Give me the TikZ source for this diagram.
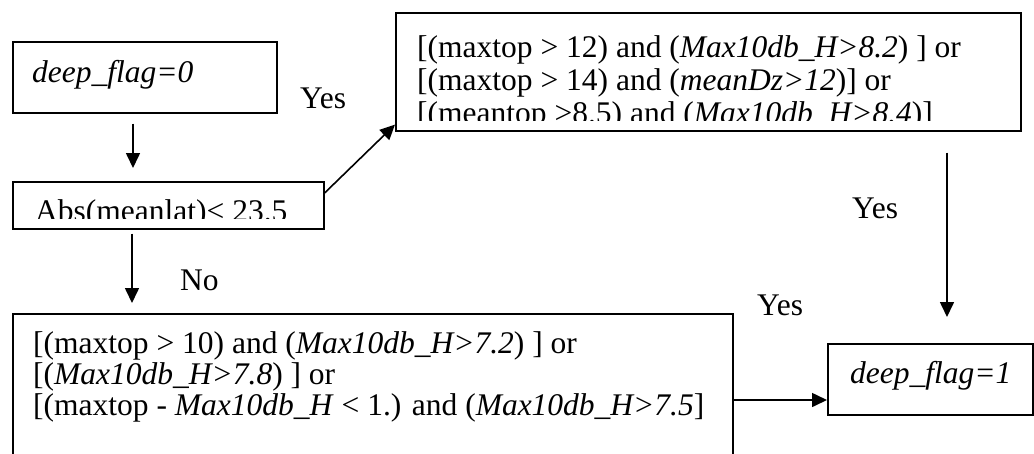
\documentclass[tikz,border=0pt]{standalone}
\usepackage{fontspec}
\setmainfont{Liberation Serif}
\usetikzlibrary{arrows.meta}
\begin{document}
\begin{tikzpicture}[x=1pt,y=-1pt,
  frame/.style={draw, line width=1.6pt, inner sep=0pt, anchor=north west},
  txt/.style={anchor=base west, inner sep=0pt, font=\fontsize{31.5}{33}\selectfont},
  flow/.style={line width=1.6pt, -{Triangle[length=15pt,width=14pt]}},
]
\useasboundingbox (0,0) rectangle (1034,453);
\clip (0,0) rectangle (1034,453);

% boxes
\node[frame, minimum width=264pt, minimum height=71pt]  (A) at (12,41)  {};
\node[frame, minimum width=311pt, minimum height=47pt]  (B) at (12,181) {};
\node[frame, minimum width=625pt, minimum height=118pt] (C) at (395,12) {};
\node[frame, minimum width=720pt, minimum height=160pt] (D) at (12,313) {};
\node[frame, minimum width=205pt, minimum height=71pt]  (E) at (827,343) {};

% box texts
\node[txt] (At) at (32,82) {\textit{deep\_flag=0}};
\begin{scope}
  \clip (12,181) rectangle (323,218);
  \node[txt] (Bt) at (35,221) {Abs(meanlat)< 23.5};
\end{scope}
\begin{scope}
  \clip (395,12) rectangle (1020,120);
  \node[txt] (Ct) at (417,57) {\vtop{\baselineskip=33pt
    \hbox{[(maxtop > 12) and (\textit{Max10db\_H>8.2}) ] or}
    \hbox{[(maxtop > 14) and (\textit{meanDz>12})] or}
    \hbox{[(meantop >8.5) and (\textit{Max10db\_H>8.4})]}}};
\end{scope}
\node[txt] (Dt) at (33,353) {\vtop{\baselineskip=31pt
    \hbox{[(maxtop > 10) and (\textit{Max10db\_H>7.2}) ] or}
    \hbox{[(\textit{Max10db\_H>7.8}) ] or}
    \hbox{[(maxtop - \textit{Max10db\_H} < 1.) and (\textit{Max10db\_H>7.5}]}}};
\node[txt] (Et) at (850,383) {\textit{deep\_flag=1}};

% connector positions
\coordinate (colA) at (133,0);
\coordinate (colB) at (132,0);
\coordinate (colC) at (947,0);
\coordinate (rowD) at (0,400);

% connectors
\draw[flow, shorten <=10pt, shorten >=13pt] (A.south -| colA) -- (B.north -| colA);
\draw[flow, shorten <=4pt, shorten >=10pt]  (B.south -| colB) -- (D.north -| colB);
\draw[flow] ([yshift=-12pt]B.north east) -- ([yshift=7pt]C.south west);
\draw[flow, shorten <=21pt, shorten >=26pt] (C.south -| colC) -- (E.north -| colC);
\draw[flow] (D.east |- rowD) -- (E.west |- rowD);

% branch labels
\node[txt] (yes1) at (300,108) {Yes};
\node[txt] (yes2) at (852,218) {Yes};
\node[txt] (yes3) at (757,315) {Yes};
\node[txt] (no)   at (180,290) {No};
\end{tikzpicture}
\end{document}
